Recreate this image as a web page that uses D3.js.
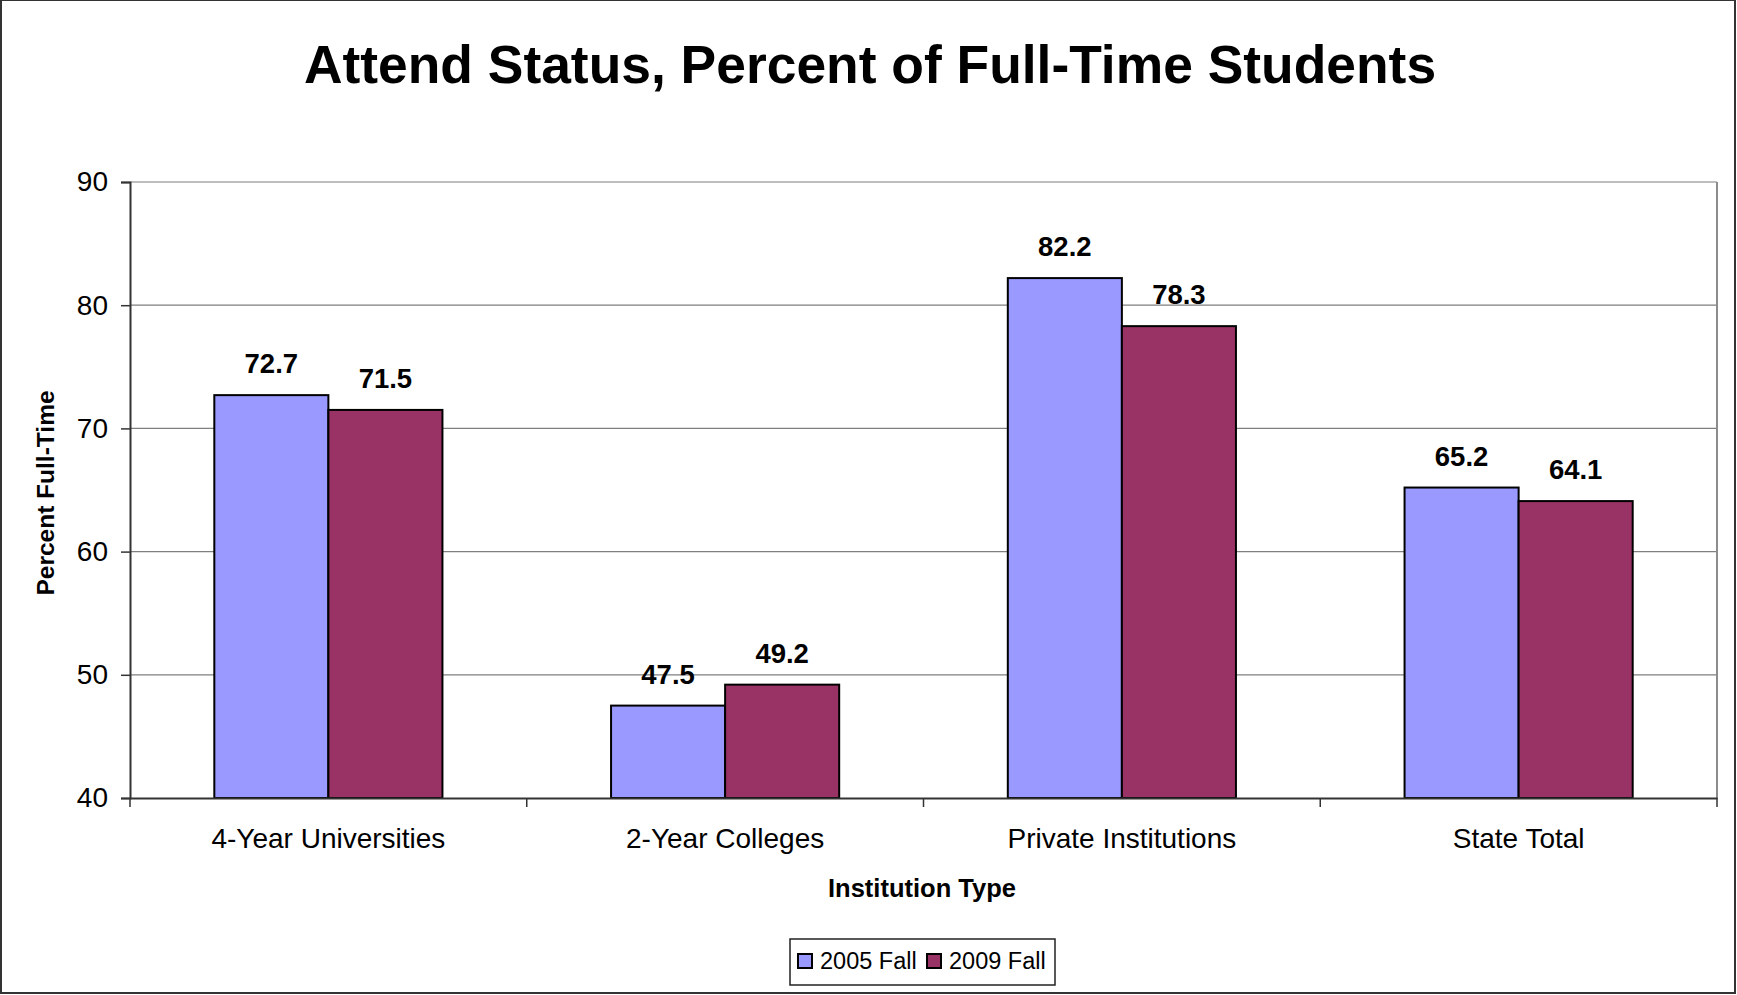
<!DOCTYPE html>
<html>
<head>
<meta charset="utf-8">
<script src="https://cdn.jsdelivr.net/npm/d3@7"></script>
<style>
  body { margin: 0; background: #fff; }
  svg { display: block; font-family: Arial, 'Liberation Sans', sans-serif; }
</style>
</head>
<body>
<div id="chart"></div>
<script>
var categories = ['4-Year Universities', '2-Year Colleges', 'Private Institutions', 'State Total'];
var seriesNames = ['2005 Fall', '2009 Fall'];
var fall2005 = [72.7, 47.5, 82.2, 65.2];
var fall2009 = [71.5, 49.2, 78.3, 64.1];
var yTicks = [40, 50, 60, 70, 80, 90];

var colors = ['#9999ff', '#993366'];

var width = 1737, height = 995;
var plot = { left: 130, right: 1717, top: 182, bottom: 798 };

var svg = d3.select('#chart').append('svg')
    .attr('width', width)
    .attr('height', height);

// chart border
svg.append('rect')
    .attr('x', 1).attr('y', 0)
    .attr('width', width - 3).attr('height', height - 2)
    .attr('fill', 'none')
    .attr('stroke', '#333')
    .attr('stroke-width', 2);

var x0 = d3.scaleBand()
    .domain(categories)
    .range([plot.left, plot.right]);

var x1 = d3.scaleBand()
    .domain(seriesNames)
    .range([0, x0.bandwidth() * 0.575]);

var y = d3.scaleLinear()
    .domain([40, 90])
    .range([plot.bottom, plot.top]);

// gridlines
svg.append('g').selectAll('line')
    .data(yTicks.slice(1))
    .enter().append('line')
    .attr('x1', plot.left).attr('x2', plot.right)
    .attr('y1', function(d) { return y(d); })
    .attr('y2', function(d) { return y(d); })
    .attr('stroke', '#7f7f7f')
    .attr('stroke-width', 1.2);

// right border of plot
svg.append('line')
    .attr('x1', plot.right).attr('x2', plot.right)
    .attr('y1', plot.top).attr('y2', plot.bottom)
    .attr('stroke', '#8c8c8c').attr('stroke-width', 2);

var rows = categories.map(function(c, i) {
    return { cat: c, values: [fall2005[i], fall2009[i]] };
});

var groups = svg.selectAll('g.grp')
    .data(rows)
    .enter().append('g')
    .attr('class', 'grp')
    .attr('transform', function(d) {
        var off = (x0.bandwidth() - x1.range()[1]) / 2;
        return 'translate(' + (x0(d.cat) + off) + ',0)';
    });

groups.selectAll('rect')
    .data(function(d) { return d.values.map(function(v, i) { return { s: seriesNames[i], v: v, i: i }; }); })
    .enter().append('rect')
    .attr('x', function(d) { return x1(d.s); })
    .attr('y', function(d) { return y(d.v); })
    .attr('width', x1.bandwidth())
    .attr('height', function(d) { return y(40) - y(d.v); })
    .attr('fill', function(d) { return colors[d.i]; })
    .attr('stroke', '#000')
    .attr('stroke-width', 2);

groups.selectAll('text.val')
    .data(function(d) { return d.values.map(function(v, i) { return { s: seriesNames[i], v: v }; }); })
    .enter().append('text')
    .attr('class', 'val')
    .attr('x', function(d) { return x1(d.s) + x1.bandwidth() / 2; })
    .attr('y', function(d) { return y(d.v) - 22; })
    .attr('text-anchor', 'middle')
    .style('font-size', '27.5px')
    .style('font-weight', 'bold')
    .text(function(d) { return d.v.toFixed(1); });

// y axis
var yAxis = svg.append('g')
    .attr('transform', 'translate(' + plot.left + ',0)')
    .call(d3.axisLeft(y).tickValues(yTicks).tickSize(9).tickPadding(13));
yAxis.select('.domain').attr('stroke', '#333').attr('stroke-width', 2);
yAxis.selectAll('.tick line').attr('stroke', '#333').attr('stroke-width', 1.5);
yAxis.selectAll('.tick text')
    .style('font-size', '28px')
    .style('font-family', 'Arial, Liberation Sans, sans-serif')
    .attr('fill', '#000');

// x axis
var xAxis = svg.append('g')
    .attr('transform', 'translate(0,' + plot.bottom + ')')
    .call(d3.axisBottom(x0).tickSize(0).tickPadding(30));
xAxis.select('.domain').attr('stroke', '#333').attr('stroke-width', 2);
xAxis.selectAll('.tick text')
    .style('font-size', '28px')
    .style('font-family', 'Arial, Liberation Sans, sans-serif')
    .attr('fill', '#000');

// x tick marks between categories
svg.append('g').selectAll('line')
    .data(categories.concat(['end']))
    .enter().append('line')
    .attr('x1', function(d, i) { return plot.left + i * x0.step(); })
    .attr('x2', function(d, i) { return plot.left + i * x0.step(); })
    .attr('y1', plot.bottom)
    .attr('y2', plot.bottom + 9)
    .attr('stroke', '#333')
    .attr('stroke-width', 1.5);

// title
svg.append('text')
    .attr('x', 870)
    .attr('y', 83)
    .attr('text-anchor', 'middle')
    .style('font-size', '53.4px')
    .style('font-weight', 'bold')
    .text('Attend Status, Percent of Full-Time Students');

// axis titles
svg.append('text')
    .attr('transform', 'translate(54,493) rotate(-90)')
    .attr('text-anchor', 'middle')
    .style('font-size', '24.5px')
    .style('font-weight', 'bold')
    .text('Percent Full-Time');

svg.append('text')
    .attr('x', 922)
    .attr('y', 897)
    .attr('text-anchor', 'middle')
    .style('font-size', '25.5px')
    .style('font-weight', 'bold')
    .text('Institution Type');

// legend
var legend = svg.append('g').attr('transform', 'translate(790,939)');
legend.append('rect')
    .attr('width', 265).attr('height', 46)
    .attr('fill', '#fff')
    .attr('stroke', '#222')
    .attr('stroke-width', 1.5);

var legendX = [8, 137];
var item = legend.selectAll('g.item')
    .data(seriesNames)
    .enter().append('g')
    .attr('class', 'item')
    .attr('transform', function(d, i) { return 'translate(' + legendX[i] + ',0)'; });
item.append('rect')
    .attr('y', 15).attr('width', 14).attr('height', 14)
    .attr('fill', function(d, i) { return colors[i]; })
    .attr('stroke', '#000').attr('stroke-width', 2);
item.append('text')
    .attr('x', 22).attr('y', 30)
    .style('font-size', '23.5px')
    .text(function(d) { return d; });
</script>
</body>
</html>
